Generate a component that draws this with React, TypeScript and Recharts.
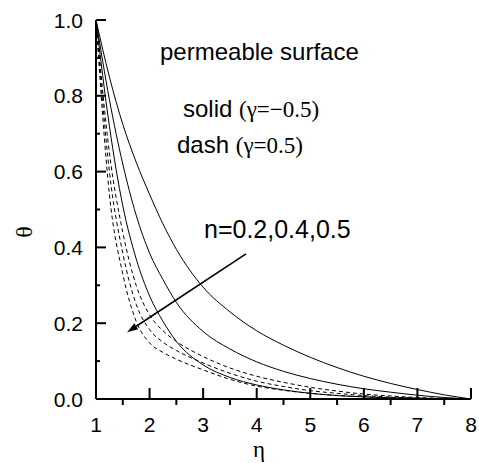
import React from 'react';
import { LineChart, Line, XAxis, YAxis, ReferenceLine } from 'recharts';

// eta grid and theta values
const eta = [1, 1.25, 1.5, 1.75, 2, 2.25, 2.5, 3, 3.5, 4, 4.5, 5, 5.5, 6, 6.5, 7, 7.5, 8];
// solid: gamma = -0.5
const solidN02 = [1, 0.85, 0.725, 0.625, 0.54, 0.462, 0.395, 0.295, 0.23, 0.18, 0.142, 0.11, 0.083, 0.06, 0.041, 0.025, 0.011, 0];
const solidN04 = [1, 0.79, 0.62, 0.485, 0.385, 0.315, 0.255, 0.178, 0.132, 0.098, 0.073, 0.054, 0.039, 0.027, 0.018, 0.01, 0.004, 0];
const solidN05 = [1, 0.72, 0.51, 0.37, 0.272, 0.205, 0.152, 0.09, 0.057, 0.037, 0.024, 0.015, 0.009, 0.0055, 0.003, 0.0015, 0.0005, 0];
// dash: gamma = 0.5
const dashN02 = [1, 0.65, 0.44, 0.3, 0.222, 0.18, 0.152, 0.112, 0.082, 0.06, 0.044, 0.031, 0.021, 0.013, 0.008, 0.004, 0.0015, 0];
const dashN04 = [1, 0.6, 0.385, 0.25, 0.183, 0.15, 0.128, 0.095, 0.068, 0.047, 0.033, 0.022, 0.015, 0.009, 0.005, 0.0025, 0.001, 0];
const dashN05 = [1, 0.54, 0.33, 0.205, 0.148, 0.123, 0.105, 0.077, 0.052, 0.034, 0.023, 0.015, 0.0095, 0.006, 0.0035, 0.002, 0.0008, 0];

const xTicks = [1, 1.5, 2, 2.5, 3, 3.5, 4, 4.5, 5, 5.5, 6, 6.5, 7, 7.5, 8];
const yTicks = [0, 0.1, 0.2, 0.3, 0.4, 0.5, 0.6, 0.7, 0.8, 0.9, 1.0];

const arrowStart = { x: 3.8, y: 0.383 };
const arrowEnd = { x: 1.58, y: 0.176 };

const W = 479;
const H = 463;
const SANS = '"Liberation Sans", Arial, sans-serif';
const SERIF = '"Liberation Serif", "Times New Roman", serif';

const isInt = (v: number) => Math.abs(v - Math.round(v)) < 1e-6;
const isEvenTenth = (v: number) => Math.round(v * 10) % 2 === 0;

const BottomTick = (p: any) => {
  const { x, y, payload } = p;
  const v = payload.value;
  if (isInt(v)) {
    return (
      <g>
        <line x1={x} y1={y} x2={x} y2={y - 11} stroke="#000" strokeWidth={2} />
        <text x={x} y={y + 33} textAnchor="middle" fontFamily={SANS} fontSize={21} fill="#000">
          {String(v)}
        </text>
      </g>
    );
  }
  return <line x1={x} y1={y} x2={x} y2={y + 6} stroke="#000" strokeWidth={2} />;
};

const TopTick = (p: any) => {
  const { x, y } = p;
  return <line x1={x} y1={y} x2={x} y2={y + 3} stroke="#000" strokeWidth={1.5} />;
};

const LeftTick = (p: any) => {
  const { x, y, payload } = p;
  const v = payload.value;
  if (isEvenTenth(v)) {
    return (
      <g>
        <line x1={x} y1={y} x2={x + 10} y2={y} stroke="#000" strokeWidth={2} />
        <text x={x - 13} y={y} dy="0.36em" textAnchor="end" fontFamily={SANS} fontSize={21} fill="#000">
          {v.toFixed(1)}
        </text>
      </g>
    );
  }
  return <line x1={x} y1={y} x2={x + 4} y2={y} stroke="#000" strokeWidth={2} />;
};

const RightTick = (p: any) => {
  const { x, y } = p;
  return <line x1={x} y1={y} x2={x - 3} y2={y} stroke="#000" strokeWidth={1.5} />;
};

const ArrowShape = (p: any) => {
  const { x1, y1, x2, y2 } = p;
  const ang = Math.atan2(y2 - y1, x2 - x1);
  const L = 11;
  const hw = 3.5;
  const bx = x2 - L * Math.cos(ang);
  const by = y2 - L * Math.sin(ang);
  const px = -Math.sin(ang) * hw;
  const py = Math.cos(ang) * hw;
  return (
    <g>
      <line x1={x1} y1={y1} x2={bx} y2={by} stroke="#000" strokeWidth={1.6} />
      <polygon points={`${x2},${y2} ${bx + px},${by + py} ${bx - px},${by - py}`} fill="#000" />
    </g>
  );
};

export default function App() {
  const rows = eta.map((e, i) => ({
    eta: e,
    s02: solidN02[i],
    s04: solidN04[i],
    s05: solidN05[i],
    d02: dashN02[i],
    d04: dashN04[i],
    d05: dashN05[i],
  }));

  const axisLine = { stroke: '#000', strokeWidth: 2 };
  const solidKeys = ['s02', 's04', 's05'];
  const dashKeys = ['d02', 'd04', 'd05'];

  return (
    <div style={{ position: 'absolute', left: 0, top: 0, width: W, height: H, background: '#fff' }}>
      <LineChart width={W} height={H} data={rows} margin={{ top: 20, right: 8, bottom: 34, left: 0 }}>
        <XAxis
          xAxisId="b"
          dataKey="eta"
          type="number"
          domain={[1, 8]}
          ticks={xTicks}
          interval={0}
          height={30}
          tickSize={0}
          tickMargin={0}
          tickLine={false}
          axisLine={axisLine}
          tick={BottomTick}
          allowDataOverflow
        />
        <XAxis
          xAxisId="t"
          orientation="top"
          dataKey="eta"
          type="number"
          domain={[1, 8]}
          ticks={xTicks}
          interval={0}
          height={0}
          tickSize={0}
          tickMargin={0}
          tickLine={false}
          axisLine={axisLine}
          tick={TopTick}
          allowDataOverflow
        />
        <YAxis
          yAxisId="l"
          type="number"
          domain={[0, 1]}
          ticks={yTicks}
          interval={0}
          width={96}
          tickSize={0}
          tickMargin={0}
          tickLine={false}
          axisLine={axisLine}
          tick={LeftTick}
          allowDataOverflow
        />
        <YAxis
          yAxisId="r"
          orientation="right"
          type="number"
          domain={[0, 1]}
          ticks={yTicks}
          interval={0}
          width={0}
          tickSize={0}
          tickMargin={0}
          tickLine={false}
          axisLine={axisLine}
          tick={RightTick}
          allowDataOverflow
        />
        {solidKeys.map((k) => (
          <Line
            key={k}
            xAxisId="b"
            yAxisId="l"
            dataKey={k}
            type="monotone"
            stroke="#000"
            strokeWidth={1}
            dot={false}
            activeDot={false}
            isAnimationActive={false}
          />
        ))}
        {dashKeys.map((k) => (
          <Line
            key={k}
            xAxisId="b"
            yAxisId="l"
            dataKey={k}
            type="monotone"
            stroke="#000"
            strokeWidth={1}
            strokeDasharray="4 3"
            dot={false}
            activeDot={false}
            isAnimationActive={false}
          />
        ))}
        <ReferenceLine
          xAxisId="b"
          yAxisId="l"
          segment={[arrowStart, arrowEnd]}
          shape={ArrowShape}
          ifOverflow="visible"
        />
      </LineChart>
      <svg
        width={W}
        height={H}
        style={{ position: 'absolute', left: 0, top: 0, pointerEvents: 'none' }}
      >
        <text x={160} y={60} fontFamily={SANS} fontSize={24} fill="#000">
          permeable surface
        </text>
        <text x={183} y={117} fontFamily={SANS} fontSize={24} fill="#000">
          solid <tspan fontFamily={SERIF} fontSize={23}>(γ=−0.5)</tspan>
        </text>
        <text x={177} y={153} fontFamily={SANS} fontSize={24} fill="#000">
          dash <tspan fontFamily={SERIF} fontSize={23}>(γ=0.5)</tspan>
        </text>
        <text x={204} y={238} fontFamily={SANS} fontSize={25} fill="#000">
          n=0.2,0.4,0.5
        </text>
        <text
          x={24}
          y={232}
          textAnchor="middle"
          dominantBaseline="central"
          fontFamily={SERIF}
          fontSize={24}
          fill="#000"
          transform="rotate(-90 24 232)"
        >
          θ
        </text>
        <text x={259} y={457} textAnchor="middle" fontFamily={SERIF} fontSize={23} fill="#000">
          η
        </text>
      </svg>
    </div>
  );
}
